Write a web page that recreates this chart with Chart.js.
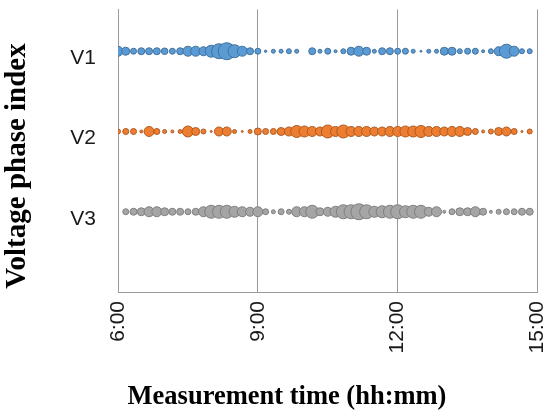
<!DOCTYPE html>
<html>
<head>
<meta charset="utf-8">
<script src="https://cdn.jsdelivr.net/npm/chart.js@4.4.1/dist/chart.umd.min.js"></script>
<style>
  html, body { margin: 0; padding: 0; background: #ffffff; }
  #wrap { width: 547px; height: 414px; }
</style>
</head>
<body>
<div id="wrap"><canvas id="c" width="547" height="414"></canvas></div>
<script>
// Measurement times (10-minute intervals, 6:00 .. 14:50)
const times = ["6:00","6:10","6:20","6:30","6:40","6:50","7:00","7:10","7:20","7:30","7:40","7:50",
  "8:00","8:10","8:20","8:30","8:40","8:50","9:00","9:10","9:20","9:30","9:40","9:50",
  "10:00","10:10","10:20","10:30","10:40","10:50","11:00","11:10","11:20","11:30","11:40","11:50",
  "12:00","12:10","12:20","12:30","12:40","12:50","13:00","13:10","13:20","13:30","13:40","13:50",
  "14:00","14:10","14:20","14:30","14:40","14:50"];

// Bubble magnitudes per phase (null = no bubble)
const v1 = [5,4,3,3.5,3.5,3.5,3.3,3,3.5,5,5,4.5,6,7.5,8.5,6.5,5,3.5,3,1.2,2,2,2.5,2,
  null,3.5,2,3,1.5,2.5,4,5,4,2,3.5,3.5,3,3,2,1,2,2,4,4,2.5,3,3,1.5,2.5,4.5,7,5,2.5,2.5];
const v2 = [2.5,3,3,1.5,5,3,2,1.5,2,5.5,4,2.5,1,4.5,4.5,2,1,2,3.5,3,3,4,4.5,6,
  5.5,5,4.5,6.5,5,6.5,5,5,5,4.5,4.5,5,5,5.5,5.5,6,5,5,4.5,5,5,4,3,1.5,2.5,4,4.5,3,1,2.5];
const v3 = [null,3,3.5,4,5,5,4,3.5,3.5,3,3.5,5,6.5,6.5,6.5,5.5,5,4.5,5,3,2,3,2.5,5,
  5,6.5,4,4.5,5.5,7,7,8,7,5.5,6,6.5,7,6,6.5,6.5,4.5,5,1.5,3,4,4,5,3.5,1.5,2.5,3,3,3.5,3.5];

const phaseLabels = ["V1", "V2", "V3"];
const xTickLabels = ["6:00", "9:00", "12:00", "15:00"];
const xTitle = "Measurement time (hh:mm)";
const yTitle = "Voltage phase index";

function toHours(t) { const p = t.split(":"); return +p[0] + (+p[1]) / 60; }

const rowOf = { V1: 3, V2: 2, V3: 1 };
function series(values, label) {
  const pts = [];
  values.forEach((v, i) => {
    if (v === null) return;
    pts.push({ x: toHours(times[i]), y: rowOf[label], r: v });
  });
  return pts;
}

const colors = {
  V1: { fill: "#5B9BD5", border: "#41719C" },
  V2: { fill: "#ED7D31", border: "#AE5A21" },
  V3: { fill: "#A5A5A5", border: "#7F7F7F" }
};

const datasets = [["V1", v1], ["V2", v2], ["V3", v3]].map(([lab, vals]) => ({
  label: lab,
  data: series(vals, lab),
  backgroundColor: colors[lab].fill,
  borderColor: colors[lab].border,
  borderWidth: 1,
  clip: 0
}));

const gridColor = "#9a9a9a";
const titleFont = "'Liberation Serif', 'Times New Roman', serif";

function noPad(s) { s.paddingLeft = 0; s.paddingRight = 0; s.paddingTop = 0; s.paddingBottom = 0; }

const axisTitles = {
  id: "axisTitles",
  afterDraw(chart) {
    const ctx = chart.ctx;
    ctx.save();
    ctx.fillStyle = "#000";
    ctx.textAlign = "center";
    ctx.textBaseline = "middle";
    ctx.font = "bold 26.5px " + titleFont;
    ctx.fillText(xTitle, 287, 397);
    ctx.translate(18, 166);
    ctx.rotate(-Math.PI / 2);
    ctx.font = "bold 29px " + titleFont;
    ctx.fillText(yTitle, 0, 0);
    ctx.restore();
  }
};

new Chart(document.getElementById("c"), {
  type: "bubble",
  data: { datasets },
  plugins: [axisTitles],
  options: {
    responsive: false,
    animation: false,
    events: [],
    layout: { padding: { top: 5, right: 9, left: 0, bottom: 0 } },
    plugins: { legend: { display: false }, tooltip: { enabled: false } },
    scales: {
      x: {
        type: "linear",
        min: 6, max: 15,
        afterBuildTicks: (s) => { s.ticks = xTickLabels.map(t => ({ value: toHours(t) })); },
        afterFit: (s) => { s.height = 122; noPad(s); },
        grid: { color: gridColor, lineWidth: 1, drawTicks: false },
        border: { color: gridColor },
        ticks: {
          minRotation: 90, maxRotation: 90, padding: 9,
          color: "#1a1a1a",
          font: { family: "'Liberation Sans', Arial, sans-serif", size: 21 },
          callback: (v) => { const h = Math.floor(v); const m = Math.round((v - h) * 60); return h + ":" + String(m).padStart(2, "0"); }
        },
        title: { display: false }
      },
      y: {
        type: "linear",
        min: 0, max: 3.52,
        afterBuildTicks: (s) => { s.ticks = phaseLabels.map(l => ({ value: rowOf[l] })); },
        afterFit: (s) => { s.width = 118; noPad(s); },
        grid: { display: false, drawTicks: false },
        border: { display: true, color: gridColor },
        ticks: {
          padding: 22,
          labelOffset: 7,
          color: "#1a1a1a",
          font: { family: "'Liberation Sans', Arial, sans-serif", size: 21 },
          callback: (v) => phaseLabels.find(l => rowOf[l] === v) || ""
        },
        title: { display: false }
      }
    }
  }
});
</script>
</body>
</html>
